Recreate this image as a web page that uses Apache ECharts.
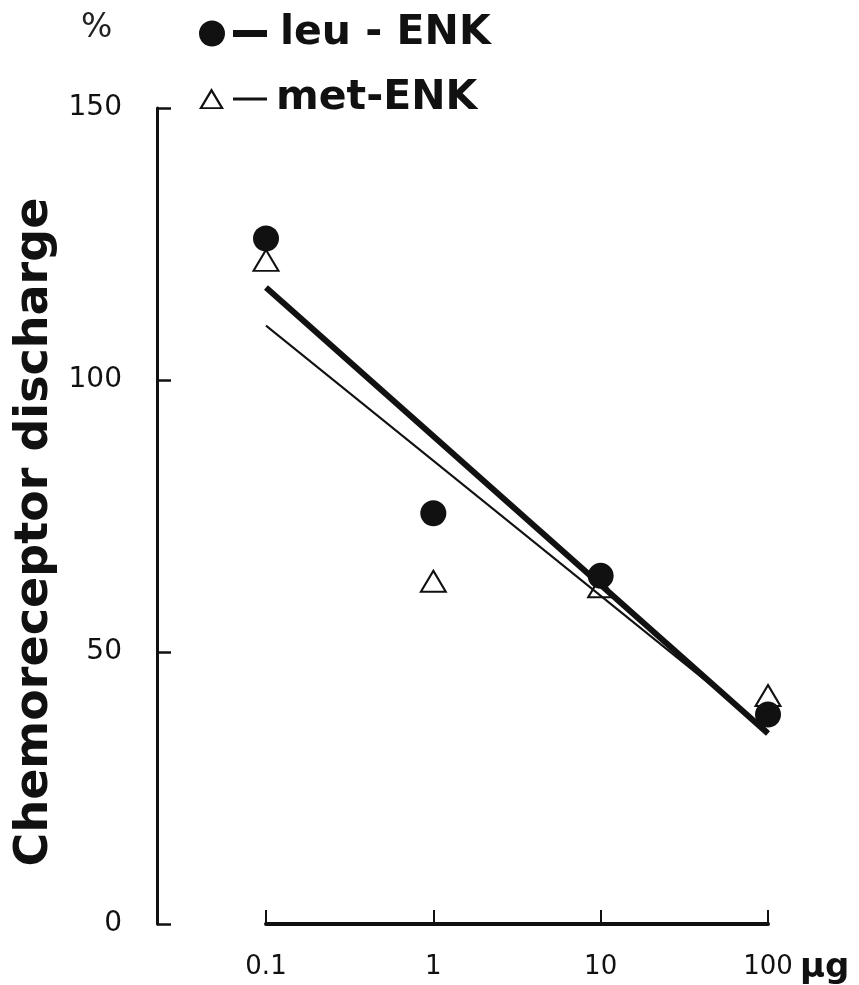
<!DOCTYPE html>
<html>
<head>
<meta charset="utf-8">
<script src="https://cdn.jsdelivr.net/npm/echarts@6/dist/echarts.min.js"></script>
<style>
html,body{margin:0;padding:0;background:#fff;}
#chart{width:859px;height:985px;}
</style>
</head>
<body>
<div id="chart"></div>
<script>
// Doses (µg) on a log scale
var doses = [0.1, 1, 10, 100];
// Chemoreceptor discharge (%) — measured points
var leuValues = [126, 75.5, 64, 38.5];
var metValues = [122, 63, 62, 42];
// Fitted regression lines (values at 0.1 and 100 µg)
var lineDoses = [0.1, 100];
var leuFit = [117, 35];
var metFit = [110, 35.5];
// Axis tick values / labels
var yTicks = [0, 50, 100, 150];
var xTickLabels = ['0.1', '1', '10', '100'];

var leuName = 'leu - ENK';
var metName = 'met-ENK';

function pairs(xs, ys) { return xs.map(function (x, i) { return [x, ys[i]]; }); }

var chart = echarts.init(document.getElementById('chart'), null, {renderer: 'canvas'});

var leuIcon = 'path://M0,12.5 A13,13 0 1,0 26,12.5 A13,13 0 1,0 0,12.5 Z M34,9 L68,9 L68,16 L34,16 Z';
var metIcon = 'path://M12.5,0 L25,21 L0,21 Z M12.5,4.5 L3.7,19.2 L21.3,19.2 Z M34,9.5 L68,9.5 L68,12.5 L34,12.5 Z';

var option = {
  backgroundColor: '#fff',
  animation: false,
  title: {
    text: '%',
    left: 76,
    top: 7,
    textStyle: {fontFamily: 'DejaVu Sans', fontSize: 33, fontWeight: 'normal', color: '#222'}
  },
  legend: [
    {
      data: [{name: leuName, icon: leuIcon, itemStyle: {color: '#111', borderWidth: 0, opacity: 1}}],
      left: 199, top: 13, padding: 0,
      itemWidth: 68, itemHeight: 26,
      selectedMode: false,
      textStyle: {fontFamily: 'DejaVu Sans', fontSize: 41, fontWeight: 'bold', color: '#111', lineHeight: 26, padding: [0, 0, 0, 8]}
    },
    {
      data: [{name: metName, icon: metIcon, itemStyle: {color: '#111', borderWidth: 0, opacity: 1}}],
      left: 199, top: 78, padding: 0,
      itemWidth: 68, itemHeight: 26,
      selectedMode: false,
      textStyle: {fontFamily: 'DejaVu Sans', fontSize: 41, fontWeight: 'bold', color: '#111', lineHeight: 26, padding: [0, 0, 0, 4]}
    }
  ],
  grid: {left: 266, right: 91, top: 108, bottom: 60, containLabel: false},
  xAxis: {
    type: 'log',
    logBase: 10,
    min: doses[0],
    max: doses[doses.length - 1],
    name: 'µg',
    nameLocation: 'end',
    nameGap: 32,
    nameTextStyle: {fontFamily: 'DejaVu Sans', fontSize: 34, fontWeight: 'bold', color: '#111', verticalAlign: 'top', padding: [27, 0, 0, 0]},
    axisLine: {show: true, lineStyle: {color: '#111', width: 4}},
    axisTick: {show: true, inside: true, length: 14, lineStyle: {color: '#111', width: 2}},
    axisLabel: {
      margin: 30,
      fontFamily: 'DejaVu Sans', fontSize: 26, color: '#111',
      formatter: function (v) {
        var i = doses.indexOf(+v.toPrecision(6));
        return i >= 0 ? xTickLabels[i] : '';
      }
    },
    splitLine: {show: false},
    minorTick: {show: false}
  },
  yAxis: {
    type: 'value',
    min: yTicks[0],
    max: yTicks[yTicks.length - 1],
    interval: 50,
    offset: 109,
    name: 'Chemoreceptor discharge',
    nameLocation: 'middle',
    nameGap: 99,
    nameTextStyle: {fontFamily: 'DejaVu Sans', fontSize: 46, fontWeight: 'bold', color: '#111', padding: [0, 32, 0, 0]},
    axisLine: {show: true, lineStyle: {color: '#111', width: 3}},
    axisTick: {show: true, inside: true, length: 14, lineStyle: {color: '#111', width: 2.5}},
    axisLabel: {margin: 35, fontFamily: 'DejaVu Sans', fontSize: 28, color: '#111'},
    splitLine: {show: false}
  },
  series: [
    {
      name: metName,
      type: 'scatter',
      data: pairs(doses, metValues),
      symbol: 'triangle',
      symbolSize: [25, 21],
      itemStyle: {color: '#fff', borderColor: '#111', borderWidth: 2, opacity: 1},
      z: 2
    },
    {
      name: leuName,
      type: 'line',
      data: pairs(lineDoses, leuFit),
      showSymbol: false,
      symbol: 'none',
      lineStyle: {color: '#111', width: 6},
      z: 3
    },
    {
      name: metName,
      type: 'line',
      data: pairs(lineDoses, metFit),
      showSymbol: false,
      symbol: 'none',
      lineStyle: {color: '#111', width: 2},
      z: 3
    },
    {
      name: leuName,
      type: 'scatter',
      data: pairs(doses, leuValues),
      symbol: 'circle',
      symbolSize: 26,
      itemStyle: {color: '#111', opacity: 1},
      z: 4
    }
  ]
};
chart.setOption(option);
</script>
</body>
</html>
